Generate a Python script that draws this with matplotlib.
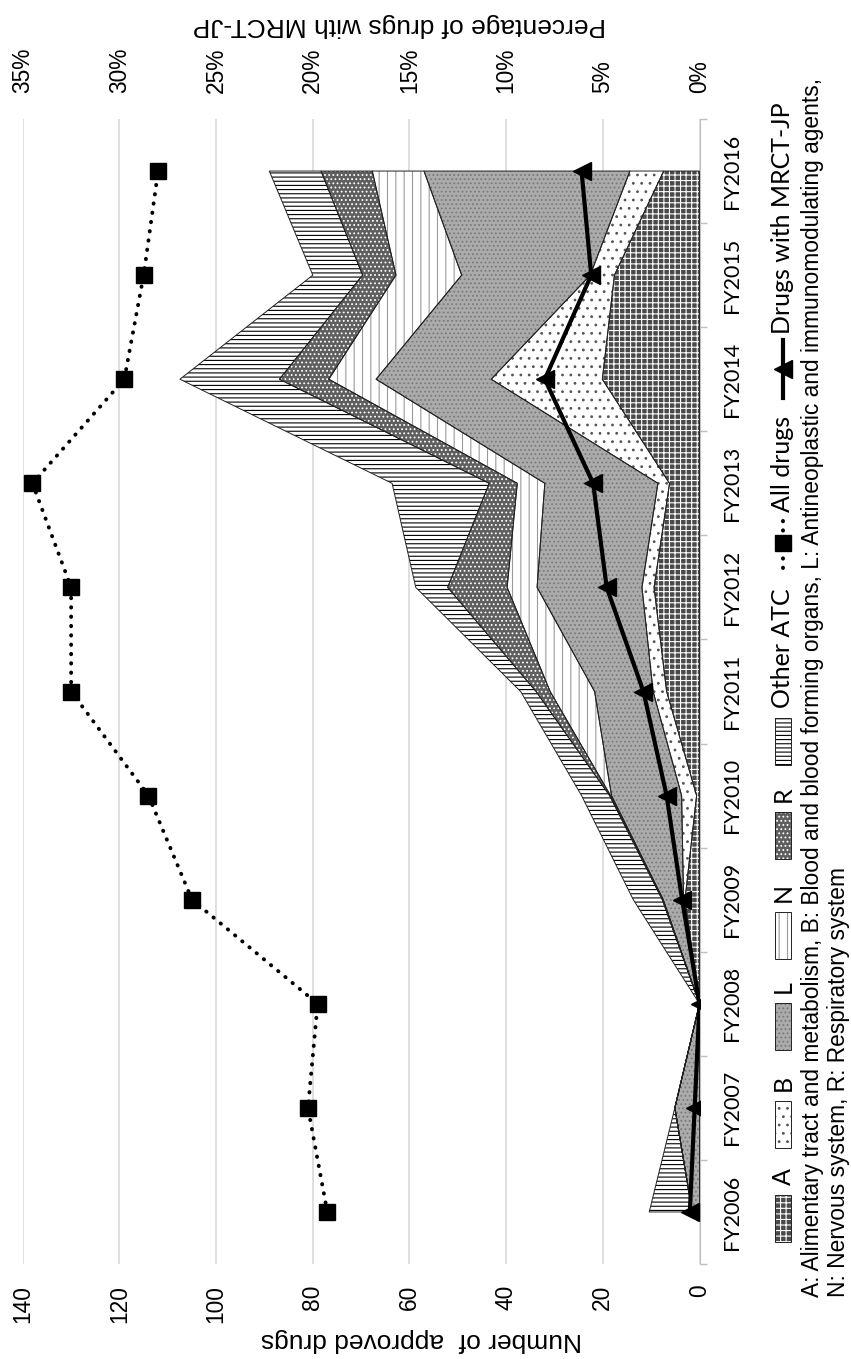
import matplotlib
matplotlib.use('Agg')
import matplotlib.pyplot as plt
from matplotlib.lines import Line2D
from matplotlib.patches import Rectangle
import numpy as np

plt.rcParams['font.family'] = ['Liberation Sans', 'DejaVu Sans']
plt.rcParams['hatch.linewidth'] = 0.8
calibri_like = ['Lato', 'DejaVu Sans']

####################################################################################
# data
years = ['FY2006', 'FY2007', 'FY2008', 'FY2009', 'FY2010', 'FY2011',
         'FY2012', 'FY2013', 'FY2014', 'FY2015', 'FY2016']

# stacked ATC groups (number of drugs)
atc_A = [0, 0, 0, 3.0, 0.6, 6.8, 9.4, 6.2, 20.1, 17.6, 7.4]
atc_B = [0, 0, 0, 0.3, 3.1, 2.8, 2.5, 2.4, 23.0, 5.0, 7.0]
atc_L = [1.5, 5.1, 0, 4.2, 14.5, 12.1, 21.7, 23.4, 23.8, 26.6, 42.6]
atc_N = [0, 0, 0, 0.1, 0.2, 9.2, 6.2, 5.7, 9.8, 13.6, 10.7]
atc_R = [0, 0, 0, 0.1, 0.2, 2.9, 12.3, 5.8, 10.2, 6.9, 10.6]
atc_other = [8.9, 0, 0, 6.0, 5.8, 3.2, 6.6, 20.1, 20.6, 10.3, 10.7]

all_drugs = [77, 81, 79, 105, 114, 130, 130, 138, 119, 115, 112]
mrct_pct = [0.5, 0.25, 0.0, 0.9, 1.7, 2.9, 4.8, 5.5, 8.0, 5.6, 6.1]

count_ticks = [0, 20, 40, 60, 80, 100, 120, 140]
pct_ticks = [0, 5, 10, 15, 20, 25, 30, 35]

layer_names = ['A', 'B', 'L', 'N', 'R', 'Other ATC']
note_line1 = ('A: Alimentary tract and metabolism, B: Blood and blood forming organs, '
              'L: Antineoplastic and immunomodulating agents,')
note_line2 = 'N: Nervous system, R: Respiratory system'

####################################################################################
# layout helpers (pixel -> figure fraction)
W, H = 851, 1359


def fx(x):
    return x / W


def fy(y):
    return 1 - y / H


# face colour, hatch colour, hatch
styles = [
    ('#4a4a4a', 'white', '+++'),
    ('white', '#555555', '..'),
    ('#ababab', '#7a7a7a', '....'),
    ('white', '#9a9a9a', '||'),
    ('#5e5e5e', 'white', '....'),
    ('white', 'black', '----'),
]

fig = plt.figure(figsize=(W / 100, H / 100), dpi=100)
plot_l, plot_r, plot_t, plot_b = 22.8, 699.5, 119, 1264
ax = fig.add_axes([fx(plot_l), fy(plot_b), (plot_r - plot_l) / W, (plot_b - plot_t) / H])

y = np.arange(len(years))
base = np.zeros(len(years))
for vals, (fc, hc, hatch) in zip([atc_A, atc_B, atc_L, atc_N, atc_R, atc_other], styles):
    top = base + np.array(vals)
    ax.fill_betweenx(y, base, top, facecolor=fc, edgecolor=hc, hatch=hatch,
                     linewidth=0, zorder=2)
    ax.fill_betweenx(y, base, top, facecolor='none', edgecolor='#222222',
                     linewidth=0.7, zorder=2.1)
    base = top

ax.plot(all_drugs, y, color='black', linestyle=(0, (0.1, 2.3)), dash_capstyle='round',
        linewidth=2.8, marker='s', markersize=11, zorder=4)

ax.set_xlim(140, 0)
ax.set_ylim(-0.5, 10.5)
ax.set_xticks(count_ticks)
ax.set_xticklabels([str(t) for t in count_ticks], rotation=90, fontsize=16.4)
ax.tick_params(axis='x', length=0, pad=15)
ax.xaxis.grid(True, color='#d9d9d9', linewidth=1.2)
ax.set_axisbelow(True)

ax.yaxis.tick_right()
ax.set_yticks(y)
ax.set_yticklabels(years, rotation=90, va='center', fontsize=15.5, family=calibri_like)
ax.set_yticks(np.arange(-0.5, 11, 1), minor=True)
ax.tick_params(axis='y', which='major', length=0, pad=16)
ax.tick_params(axis='y', which='minor', length=5, width=1, color='#bfbfbf', direction='out')
for s in ['left', 'top', 'bottom']:
    ax.spines[s].set_visible(False)
ax.spines['right'].set_color('#bfbfbf')

ax2 = ax.twiny()
ax2.plot(mrct_pct, y, color='black', linewidth=3, marker='<', markersize=13, zorder=5)
ax2.set_xlim(35, 0)
ax2.set_xticks(pct_ticks)
ax2.set_xticklabels([f'{t}%' for t in pct_ticks], rotation=90, fontsize=16.4)
ax2.tick_params(axis='x', length=0, pad=19)
for s in ax2.spines.values():
    s.set_visible(False)

fig.text(fx(421), fy(1340), 'Number of  approved drugs', rotation=180,
         ha='center', va='center', fontsize=19)
fig.text(fx(399), fy(25), 'Percentage of drugs with MRCT-JP', rotation=180,
         ha='center', va='center', fontsize=19)

####################################################################################
# legend (rotated, drawn by hand)
leg_x = 783
patch_bottoms = [1242, 1148, 1050, 959, 859, 765]
for name, (fc, hc, hatch), yb in zip(layer_names, styles, patch_bottoms):
    fig.add_artist(Rectangle((fx(leg_x - 8), fy(yb)), 16 / W, 47 / H, transform=fig.transFigure,
                             facecolor=fc, edgecolor=hc, hatch=hatch, linewidth=0))
    fig.add_artist(Rectangle((fx(leg_x - 8), fy(yb)), 16 / W, 47 / H, transform=fig.transFigure,
                             facecolor='none', edgecolor='#222222', linewidth=0.7))
    fig.text(fx(leg_x), fy(yb - 57), name, rotation=90, ha='center', va='bottom',
             fontsize=18, family=calibri_like)

fig.add_artist(Line2D([fx(leg_x), fx(leg_x)], [fy(568), fy(518)], color='black',
                      linestyle=(0, (0.1, 2.3)), dash_capstyle='round', linewidth=2.8))
fig.add_artist(Line2D([fx(leg_x)], [fy(543)], color='black', marker='s', markersize=11))
fig.text(fx(leg_x), fy(512), 'All drugs', rotation=90, ha='center', va='bottom',
         fontsize=18, family=calibri_like)

fig.add_artist(Line2D([fx(leg_x), fx(leg_x)], [fy(398), fy(340)], color='black', linewidth=3))
fig.add_artist(Line2D([fx(leg_x)], [fy(369)], color='black', marker='<', markersize=13))
fig.text(fx(leg_x), fy(334), 'Drugs with MRCT-JP', rotation=90, ha='center', va='bottom',
         fontsize=18, family=calibri_like)

fig.text(fx(812), fy(1297), note_line1, rotation=90, ha='center', va='bottom', fontsize=16.4)
fig.text(fx(838), fy(1297), note_line2, rotation=90, ha='center', va='bottom', fontsize=16.4)

fig.savefig('out.png', dpi=100)
